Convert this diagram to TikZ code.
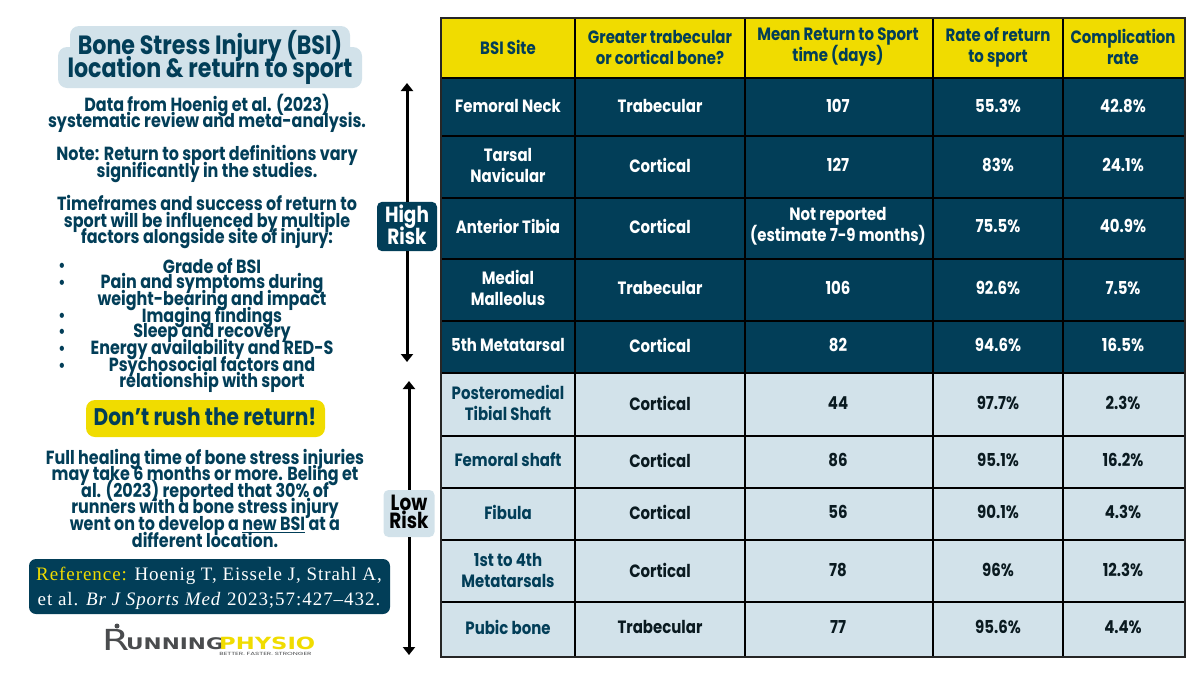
\documentclass[tikz,border=0pt]{standalone}
\usepackage{fontspec}
\setmainfont{Poppins}[FakeStretch=0.84]
\newfontfamily\reffont{Liberation Serif}[LetterSpace=5]
\newfontfamily\logofont{DejaVu Sans}[FakeStretch=1.35]
\newcommand{\tightlines}{\lineskiplimit=-50pt\lineskip=0pt\relax}
\definecolor{darkblue}{HTML}{023E58}
\definecolor{lightblue}{HTML}{D2E2EA}
\definecolor{signyellow}{HTML}{F0DC00}
\definecolor{cellblack}{HTML}{0A1A20}
\definecolor{logogrey}{HTML}{4A4C4E}
\tikzset{
    sidetext/.style={align=center,text=darkblue,font=\fontsize{19}{16.6}\selectfont\bfseries\tightlines},
    sidebullet/.style={text=darkblue,font=\fontsize{17}{17}\selectfont\bfseries},
    headcell/.style={align=center,text=darkblue,font=\fontsize{17.8}{21}\selectfont\bfseries\tightlines},
    highcell/.style={align=center,text=white,font=\fontsize{17.8}{21}\selectfont\bfseries\tightlines},
    lowsite/.style={align=center,text=darkblue,font=\fontsize{17.8}{21}\selectfont\bfseries\tightlines},
    lowcell/.style={align=center,text=cellblack,font=\fontsize{17.8}{21}\selectfont\bfseries\tightlines},
    riskbox/.style={align=center,rounded corners=5pt,minimum width=60pt,text depth=3pt,font=\fontsize{22}{22}\selectfont\bfseries\tightlines},
    riskarrow/.style={line width=3pt,black,-{Triangle[width=12pt,length=8pt]}}
}
\usetikzlibrary{arrows.meta}
\begin{document}
\begin{tikzpicture}[x=1pt,y=-1pt]
    \useasboundingbox (0,0) rectangle (1200,675);
    % title
    \fill[lightblue,rounded corners=9pt] (70,26) rectangle (350,70);
    \fill[lightblue,rounded corners=9pt] (58,47) rectangle (362,88);
    \node[sidetext,font=\fontsize{26.4}{22.5}\selectfont\bfseries\tightlines] (title) at (210,57.5) {Bone Stress Injury (BSI)\\location \& return to sport};
    % left column
    \node[sidetext] (data) at (207,113.5) {Data from Hoenig et al. (2023)\\systematic review and meta-analysis.};
    \node[sidetext] (note) at (207,164) {Note: Return to sport definitions vary\\significantly in the studies.};
    \node[sidetext] (factors) at (207,222) {Timeframes and success of return to\\sport will be influenced by multiple\\factors alongside site of injury:};
    \node[sidetext] (grade) at (212,266) {Grade of BSI};
    \node[sidetext] (pain) at (212,292) {Pain and symptoms during\\weight-bearing and impact};
    \node[sidetext] (imaging) at (212,317) {Imaging findings};
    \node[sidetext] (sleep) at (212,333) {Sleep and recovery};
    \node[sidetext] (energy) at (212,349.5) {Energy availability and RED-S};
    \node[sidetext] (psycho) at (212,374.5) {Psychosocial factors and\\relationship with sport};
    \node[sidebullet] (b1) at (62,267) {•};
    \node[sidebullet] (b2) at (62,284) {•};
    \node[sidebullet] (b3) at (62,317) {•};
    \node[sidebullet] (b4) at (62,333) {•};
    \node[sidebullet] (b5) at (62,350) {•};
    \node[sidebullet] (b6) at (62,367) {•};
    % do not rush
    \fill[signyellow,rounded corners=9pt] (86,400) rectangle (325,437);
    \node[sidetext,font=\fontsize{24}{24}\selectfont\bfseries] (rush) at (205,417) {Don’t rush the return!};
    \node[sidetext] (healing) at (205,498) {Full healing time of bone stress injuries\\may take 6 months or more. Beling et\\al. (2023) reported that 30\% of\\runners with a bone stress injury\\went on to develop a \underline{new BSI} at a\\different location.};
    % reference
    \fill[darkblue,rounded corners=7pt] (29,559) rectangle (390,614);
    \node[text=white,font=\fontsize{19}{25}\selectfont\reffont\tightlines,align=center] (ref) at (209,588) {\textcolor{signyellow}{Reference:} Hoenig T, Eissele J, Strahl A,\\et al. \textit{Br J Sports Med} 2023;57:427–432.};
    % logo
    \fill[logogrey] (117,626) circle (2.5pt);
    \node[anchor=base west,inner sep=0pt,text=logogrey,font=\fontsize{29}{29}\selectfont\logofont] (logoa) at (102,650) {R};
    \node[anchor=base west,inner sep=0pt,text=logogrey,font=\fontsize{16}{16}\selectfont\logofont\bfseries] (logob) at (126,649) {UNNING};
    \node[anchor=base west,inner sep=0pt,text=signyellow,font=\fontsize{16.8}{17}\selectfont\logofont\bfseries] (logoc) at (219,649) {PHYSIO};
    \node[anchor=west,inner sep=0pt,xscale=1.9,text=logogrey,font=\fontsize{4.5}{5}\selectfont] (logod) at (219,654) {BETTER. FASTER. STRONGER};
    % risk arrows
    \coordinate (hightop) at (407,83);
    \coordinate (highbot) at (407,362);
    \coordinate (lowtop) at (409,381);
    \coordinate (lowbot) at (409,655);
    \node[riskbox,minimum height=49pt,fill=darkblue,text=white] (high) at (407,226.5) {High\\Risk};
    \node[riskbox,minimum width=51pt,minimum height=47pt,fill=lightblue,text=black] (low) at (409,513.5) {Low\\[-4pt]Risk};
    \draw[riskarrow] (high) -- (hightop);
    \draw[riskarrow] (high) -- (highbot);
    \draw[riskarrow] (low) -- (lowtop);
    \draw[riskarrow] (low) -- (lowbot);
    % table
    \fill[signyellow] (441,18) rectangle (1185,78);
    \fill[darkblue] (441,78) rectangle (1185,373);
    \fill[lightblue] (441,373) rectangle (1185,657);
    \draw[line width=2pt,black] (575,18) -- (575,657);
    \draw[line width=2pt,black] (745,18) -- (745,657);
    \draw[line width=2pt,black] (933,18) -- (933,657);
    \draw[line width=2pt,black] (1063,18) -- (1063,657);
    \draw[line width=2pt,black] (441,78) -- (1185,78);
    \draw[line width=2pt,black] (441,136) -- (1185,136);
    \draw[line width=2pt,black] (441,198) -- (1185,198);
    \draw[line width=2pt,black] (441,259) -- (1185,259);
    \draw[line width=2pt,black] (441,321) -- (1185,321);
    \draw[line width=2pt,black] (441,373) -- (1185,373);
    \draw[line width=2pt,black] (441,436) -- (1185,436);
    \draw[line width=2pt,black] (441,488) -- (1185,488);
    \draw[line width=2pt,black] (441,540) -- (1185,540);
    \draw[line width=2pt,black] (441,602) -- (1185,602);
    \draw[line width=2.5pt,black!85] (441,18) rectangle (1185,657);
    % header row
    \node[headcell] (site) at (508,47) {BSI Site};
    \node[headcell] (bone) at (660,47) {Greater trabecular\\or cortical bone?};
    \node[headcell] (mean) at (838,47) {Mean Return to Sport\\time (days)};
    \node[headcell] (rate) at (998,47) {Rate of return\\to sport};
    \node[headcell] (comp) at (1123,47) {Complication\\rate};
    % high risk rows
    \node[highcell] (siteA) at (508,106) {Femoral Neck};
    \node[highcell] (boneA) at (660,106) {Trabecular};
    \node[highcell] (meanA) at (838,106) {107};
    \node[highcell] (rateA) at (998,106) {55.3\%};
    \node[highcell] (compA) at (1123,106) {42.8\%};
    \node[highcell] (siteB) at (508,165) {Tarsal\\Navicular};
    \node[highcell] (boneB) at (660,165) {Cortical};
    \node[highcell] (meanB) at (838,165) {127};
    \node[highcell] (rateB) at (998,165) {83\%};
    \node[highcell] (compB) at (1123,165) {24.1\%};
    \node[highcell] (siteC) at (508,226) {Anterior Tibia};
    \node[highcell] (boneC) at (660,226) {Cortical};
    \node[highcell] (meanC) at (838,226) {Not reported\\(estimate 7-9 months)};
    \node[highcell] (rateC) at (998,226) {75.5\%};
    \node[highcell] (compC) at (1123,226) {40.9\%};
    \node[highcell] (siteD) at (508,288) {Medial\\Malleolus};
    \node[highcell] (boneD) at (660,288) {Trabecular};
    \node[highcell] (meanD) at (838,288) {106};
    \node[highcell] (rateD) at (998,288) {92.6\%};
    \node[highcell] (compD) at (1123,288) {7.5\%};
    \node[highcell] (siteE) at (508,345) {5th Metatarsal};
    \node[highcell] (boneE) at (660,345) {Cortical};
    \node[highcell] (meanE) at (838,345) {82};
    \node[highcell] (rateE) at (998,345) {94.6\%};
    \node[highcell] (compE) at (1123,345) {16.5\%};
    % low risk rows
    \node[lowsite] (siteF) at (508,403) {Posteromedial\\Tibial Shaft};
    \node[lowcell] (boneF) at (660,403) {Cortical};
    \node[lowcell] (meanF) at (838,403) {44};
    \node[lowcell] (rateF) at (998,403) {97.7\%};
    \node[lowcell] (compF) at (1123,403) {2.3\%};
    \node[lowsite] (siteG) at (508,460) {Femoral shaft};
    \node[lowcell] (boneG) at (660,460) {Cortical};
    \node[lowcell] (meanG) at (838,460) {86};
    \node[lowcell] (rateG) at (998,460) {95.1\%};
    \node[lowcell] (compG) at (1123,460) {16.2\%};
    \node[lowsite] (siteH) at (508,512) {Fibula};
    \node[lowcell] (boneH) at (660,512) {Cortical};
    \node[lowcell] (meanH) at (838,512) {56};
    \node[lowcell] (rateH) at (998,512) {90.1\%};
    \node[lowcell] (compH) at (1123,512) {4.3\%};
    \node[lowsite] (siteI) at (508,570) {1st to 4th\\Metatarsals};
    \node[lowcell] (boneI) at (660,570) {Cortical};
    \node[lowcell] (meanI) at (838,570) {78};
    \node[lowcell] (rateI) at (998,570) {96\%};
    \node[lowcell] (compI) at (1123,570) {12.3\%};
    \node[lowsite] (siteJ) at (508,627) {Pubic bone};
    \node[lowcell] (boneJ) at (660,627) {Trabecular};
    \node[lowcell] (meanJ) at (838,627) {77};
    \node[lowcell] (rateJ) at (998,627) {95.6\%};
    \node[lowcell] (compJ) at (1123,627) {4.4\%};
\end{tikzpicture}
\end{document}
